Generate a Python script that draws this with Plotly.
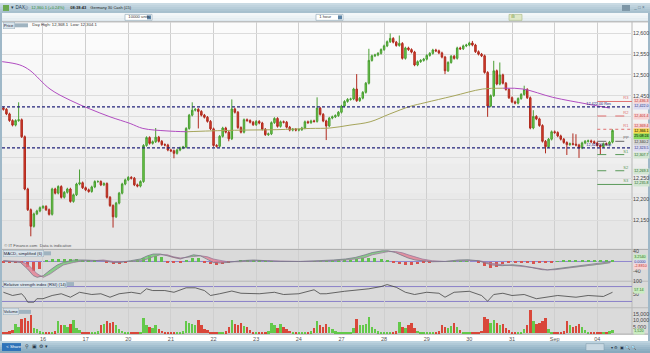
import plotly.graph_objects as go

W, H = 650, 353
FONT = "Arial, Liberation Sans, sans-serif"

# ---------------- data (hourly bars, index 1..201) ----------------
CLOSE = [
    12417, 12406, 12390, 12379, 12390, 12392, 12351, 12225, 12175, 12135,
    12165, 12172, 12180, 12183, 12175, 12164, 12225, 12215, 12231, 12205,
    12217, 12225, 12195, 12211, 12237, 12240, 12228, 12223, 12219, 12230,
    12243, 12243, 12235, 12238, 12205, 12185, 12158, 12191, 12215, 12237,
    12247, 12253, 12251, 12235, 12232, 12243, 12330, 12349, 12335, 12339,
    12350, 12340, 12332, 12331, 12319, 12317, 12311, 12319, 12324, 12326,
    12371, 12403, 12415, 12417, 12412, 12403, 12398, 12388, 12370, 12330,
    12328, 12352, 12372, 12362, 12346, 12418, 12410, 12373, 12362, 12392,
    12390, 12386, 12380, 12388, 12384, 12369, 12356, 12358, 12385, 12395,
    12376, 12387, 12386, 12374, 12367, 12369, 12367, 12368, 12372, 12387,
    12385, 12389, 12388, 12420, 12405, 12389, 12377, 12396, 12399, 12402,
    12410, 12425, 12436, 12441, 12442, 12466, 12438, 12444, 12458, 12480,
    12535, 12546, 12548, 12552, 12561, 12570, 12580, 12588, 12579, 12571,
    12576, 12540, 12565, 12561, 12555, 12524, 12532, 12535, 12538, 12547,
    12552, 12560, 12558, 12553, 12543, 12510, 12530, 12545, 12540, 12565,
    12563, 12570, 12572, 12577, 12572, 12556, 12550, 12546, 12506, 12425,
    12450, 12510, 12478, 12500, 12480, 12465, 12445, 12435, 12432, 12443,
    12453, 12465, 12445, 12372, 12400, 12394, 12378, 12340, 12327, 12345,
    12363, 12361, 12353, 12345, 12337, 12332, 12334, 12333, 12331, 12324,
    12336, 12340, 12341, 12339, 12336, 12330, 12327, 12334, 12333, 12338,
    12366,
]
FIRST_OPEN = 12420
WICK = 3  # typical wick length in points
HIGH_EXT = {6: 12434, 26: 12272, 51: 12372, 63: 12434, 76: 12441, 104: 12446,
            117: 12502, 121: 12563, 128: 12600, 131: 12595, 155: 12582,
            162: 12534, 164: 12530, 172: 12474, 175: 12415, 188: 12359, 189: 12357}
LOW_EXT = {10: 12111, 37: 12132, 57: 12299, 65: 12371, 75: 12340, 107: 12343,
           146: 12502, 160: 12399, 179: 12311, 186: 12307, 190: 12300, 197: 12309}

VOLUME = [
    600, 800, 1500, 2500, 7000, 5000, 11000, 12000, 9000, 14000, 4000, 3000, 1500,
    800, 500, 400, 600, 1500, 9000, 6000, 6000, 5000, 7000, 10500, 4000, 2500, 1200,
    600, 400, 500, 600, 1500, 6000, 7000, 9000, 7500, 8500, 6000, 3000, 2000, 900,
    500, 400, 300, 500, 1200, 11500, 6500, 5000, 4000, 6000, 3500, 2000, 1200, 700,
    500, 400, 500, 600, 1500, 9000, 8000, 7000, 6000, 10000, 6500, 3500, 2500, 1000,
    500, 400, 500, 600, 1500, 5000, 10500, 7000, 6000, 7500, 5500, 4500, 2500, 900,
    500, 400, 400, 500, 1500, 7500, 6000, 4000, 7000, 5000, 3000, 2000, 1000, 600,
    400, 400, 500, 600, 1500, 4000, 9000, 6000, 4500, 7000, 5000, 3000, 1500, 700,
    500, 400, 500, 1200, 4000, 10800, 6000, 6500, 7000, 12600, 5000, 3000, 1500, 800,
    500, 400, 500, 600, 1500, 8500, 5000, 4000, 6500, 8000, 4000, 2000, 1000, 600,
    500, 400, 500, 600, 1500, 6500, 5000, 4000, 5500, 8000, 5000, 2500, 1200, 700,
    500, 400, 500, 700, 2000, 12300, 11000, 8000, 10000, 7500, 6500, 7000, 4000, 2500,
    700, 500, 500, 800, 3000, 6000, 17900, 9000, 7000, 8000, 9500, 12000, 3000, 1200,
    600, 400, 500, 1500, 9500, 6000, 5000, 5500, 7000, 4500, 2500, 1200, 700, 500,
    400, 500, 600, 800, 1500, 2500,
]

DAY_START_BAR = [14, 28, 42, 56, 70, 84, 98, 112, 126, 140, 154, 168, 182, 196]
DAY_LABELS = ["16", "17", "20", "21", "22", "23", "24", "27", "28", "29", "30", "31", "Sep", "04"]

# moving average
MA_X = [0.6, 6.4, 9.7, 16.3, 22.9, 29.4, 36, 42.6, 46.8, 54.7, 61.3, 68.8, 79.7, 90.8,
        101.7, 108.2, 114.8, 121.4, 127.9, 134.5, 139.4, 148.6, 158.4, 165, 171.6,
        181.4, 192.6, 200.1]
MA_V = [12532, 12524, 12511, 12466, 12439, 12418, 12399, 12383, 12371, 12365, 12363,
        12365, 12367, 12368, 12371, 12372, 12379, 12387, 12406, 12424, 12433, 12449,
        12466, 12468, 12466, 12446, 12430, 12420]

RESISTANCE = 12423
SUPPORT = 12324
PIVOTS = [("R3", 12436, "solid", "#e07070"), ("R2", 12401, "dash", "#e07070"),
          ("R1", 12369, "dot", "#e07070"), ("PP", 12340, "dash", "#666666"),
          ("S1", 12308, "dash", "#5a9a5a"), ("S2", 12269, "dash", "#5a9a5a"),
          ("S3", 12236, "solid", "#5a9a5a")]

# MACD (simplified) lines and histogram
MACD_X = [1, 6.6, 8.9, 10.8, 12.1, 14.1, 16.4, 18.7, 20.7, 24, 27.2, 30.5, 33.8, 37.1,
          39.4, 42.7, 46, 48.3, 50.2, 52.5, 54.8, 56.8, 59.1, 61.4, 63.4, 65.7, 68,
          69.9, 72.2, 74.5, 78.8, 83.1, 87.7, 91.9, 98.5, 105.1, 109.3, 113.3, 116.5,
          119.8, 122.1, 125.4, 127.4, 129.7, 132, 133.9, 136.2, 138.5, 141.8, 146.1,
          150.4, 153.6, 156.9, 159.2, 161.5, 164.8, 168.1, 171.4, 174.7, 177.9, 179.6,
          182.2, 185.5, 189.8, 194.4, 198.6, 200.3]
MACD_A = [3, -4, -30, -57, -64, -57, -34, -14, -4, 6, 6, 3, 3, -4, -4, 3, 10, 23, 30, 30,
          23, 14, 10, 19, 27, 23, 10, -4, -6, -4, 3, 6, 3, 0, 0, 3, 6, 10, 16, 27, 36, 43,
          43, 36, 23, 14, 6, 3, -1, 0, 6, 7, 3, -6, -14, -17, -13, -17, -26, -33, -34, -30,
          -24, -18, -13, -6, -1]
MACD_B = [3, 0, -10, -34, -50, -64, -50, -30, -14, -4, 3, 3, 6, 0, -1, 0, 3, 10, 19, 27,
          27, 19, 14, 16, 20, 23, 19, 10, 3, -1, -1, 3, 3, 1, 0, 1, 3, 6, 10, 16, 27, 36,
          40, 40, 35, 27, 19, 10, 3, 0, 3, 4, 4, -2, -8, -13, -17, -18, -24, -30, -34, -33,
          -28, -22, -16, -10, -5]
HIST_X = list(range(1, 202, 2))
HIST_V = [-2, -2, -3, -4, -20, -38, -28, 4, 9, 9, 9, 9, 9, 8, 7, 5, 0, -6, -10, -10,
          -4, 2, 6, 14, 22, 22, 18, -4, -6, -6, 8, 16, 14, -4, -10, -12, -10, -6, 0, 3,
          4, 4, 3, 2, 1, 0, 0, 0, 0, 0, 0, 1, 1, 2, 3, 4, 6, 8, 12, 16,
          16, 15, 12, 6, -4, -10, -12, -12, -9, -5, -2, 0, 0, 1, 2, 2, 2, 0, -6, -18,
          -24, -20, -10, -6, -4, -5, -7, -8, -7, -5, -2, 1, 3, 4, 4, 4, 3, 3, 3, 3, 4]

# RSI (14)
RSI_X = [1, 4, 7, 8, 9, 11, 12, 14, 17, 20, 23, 26, 30, 33, 36, 39, 43, 46, 48, 50, 54,
         57, 61, 64, 67, 69, 72, 76, 79, 81, 85, 90, 93, 98, 103, 105, 107, 113, 118,
         121, 125, 127, 130, 133, 136, 140, 144, 146, 149, 154, 158, 160, 162, 165,
         168, 172, 176, 179, 183, 189, 193, 198, 201]
RSI_V = [57, 44, 51, 37, 17, 17, 31, 31, 44, 51, 37, 57, 48, 51, 37, 51, 57, 51, 71, 64,
         64, 57, 75, 75, 64, 44, 51, 62, 53, 53, 51, 57, 48, 51, 67, 51, 51, 61, 67, 71,
         80, 88, 77, 57, 48, 57, 53, 37, 57, 61, 44, 21, 48, 53, 44, 48, 31, 37, 44, 37,
         44, 40, 57]

PRICE_TICKS = list(range(12150, 12601, 50))
PRICE_TICKS_HIDDEN = [12300, 12350, 12400]  # covered by level boxes in the reference
VOL_TICKS = [5000, 10000, 15000]
MACD_TICKS = [40, -40]
RSI_TICKS = [100, 50]

# ---------------- derived candle data ----------------
N = len(CLOSE)
IDX = list(range(1, N + 1))
OPEN = [FIRST_OPEN] + CLOSE[:-1]
HIGH = [HIGH_EXT.get(i, max(o, c) + WICK) for i, o, c in zip(IDX, OPEN, CLOSE)]
LOW = [LOW_EXT.get(i, min(o, c) - WICK) for i, o, c in zip(IDX, OPEN, CLOSE)]

# ---------------- geometry helpers ----------------
def px(x):
    return x / W


def py(y):
    return 1 - y / H


X_LEFT, X_RIGHT = 2, 632
P_TOP, P_BOT = 19, 248
M_TOP, M_BOT = 249, 280
R_TOP, R_BOT = 281, 307
V_TOP, V_BOT = 308, 334
XR = [0.54, 207.4]

fig = go.Figure()

# candles
fig.add_trace(go.Candlestick(
    x=IDX, open=OPEN, high=HIGH, low=LOW, close=CLOSE,
    increasing=dict(line=dict(color="#4a9e33", width=1), fillcolor="#72d24a"),
    decreasing=dict(line=dict(color="#b02a1e", width=1), fillcolor="#d8402e"),
    whiskerwidth=0, xaxis="x", yaxis="y", showlegend=False, hoverinfo="skip"))

# moving average coloured by direction
seg_x, seg_y = [MA_X[0]], [MA_V[0]]
cur = None
segments = []
for k in range(1, len(MA_X)):
    falling = MA_V[k] <= MA_V[k - 1]
    if cur is None:
        cur = falling
    if falling != cur:
        segments.append((cur, seg_x, seg_y))
        seg_x, seg_y = [MA_X[k - 1]], [MA_V[k - 1]]
        cur = falling
    seg_x.append(MA_X[k])
    seg_y.append(MA_V[k])
segments.append((cur, seg_x, seg_y))
for falling, sx, sy in segments:
    fig.add_trace(go.Scatter(x=sx, y=sy, mode="lines", line=dict(color="#b04cc0" if falling else "#a5a45a", width=1),
                             xaxis="x", yaxis="y", showlegend=False, hoverinfo="skip", line_shape="spline"))

# MACD ribbon
gx, gy, rx, ry = [], [], [], []
for k in range(len(MACD_X) - 1):
    poly_x = [MACD_X[k], MACD_X[k + 1], MACD_X[k + 1], MACD_X[k], MACD_X[k]]
    poly_y = [MACD_A[k], MACD_A[k + 1], MACD_B[k + 1], MACD_B[k], MACD_A[k]]
    if MACD_A[k] + MACD_A[k + 1] >= MACD_B[k] + MACD_B[k + 1]:
        gx += poly_x + [None]; gy += poly_y + [None]
    else:
        rx += poly_x + [None]; ry += poly_y + [None]
fig.add_trace(go.Scatter(x=gx, y=gy, fill="toself", fillcolor="rgba(110,200,110,0.75)", mode="none",
                         xaxis="x2", yaxis="y2", showlegend=False, hoverinfo="skip"))
fig.add_trace(go.Scatter(x=rx, y=ry, fill="toself", fillcolor="rgba(230,120,140,0.75)", mode="none",
                         xaxis="x2", yaxis="y2", showlegend=False, hoverinfo="skip"))
fig.add_trace(go.Bar(x=HIST_X, y=HIST_V, width=1.0,
                     marker=dict(color=["#5fbf4f" if v >= 0 else "#d9534f" for v in HIST_V], line=dict(width=0)),
                     xaxis="x2", yaxis="y2", showlegend=False, hoverinfo="skip"))
fig.add_trace(go.Scatter(x=MACD_X, y=MACD_B, mode="lines", line=dict(color="#9a7a9a", width=0.8),
                         xaxis="x2", yaxis="y2", showlegend=False, hoverinfo="skip"))
fig.add_trace(go.Scatter(x=MACD_X, y=MACD_A, mode="lines", line=dict(color="#7a7a8a", width=0.8),
                         xaxis="x2", yaxis="y2", showlegend=False, hoverinfo="skip"))

# RSI
fig.add_trace(go.Scatter(x=RSI_X, y=RSI_V, mode="lines", line=dict(color="#444444", width=0.8),
                         xaxis="x3", yaxis="y3", showlegend=False, hoverinfo="skip"))

# volume
vcol = ["#63c94a" if c >= o else "#d9473a" for o, c in zip(OPEN, CLOSE)]
fig.add_trace(go.Bar(x=IDX, y=VOLUME, width=0.8, marker=dict(color=vcol, line=dict(width=0)),
                     xaxis="x4", yaxis="y4", showlegend=False, hoverinfo="skip"))

# ---------------- axes ----------------
xcommon = dict(range=XR, tickvals=DAY_START_BAR, showgrid=True, gridcolor="#cfcfcf", gridwidth=1,
               zeroline=False, showline=False, ticks="", fixedrange=True,
               domain=[px(X_LEFT), px(X_RIGHT)])
fig.update_layout(
    xaxis=dict(**xcommon, anchor="y", showticklabels=False, rangeslider=dict(visible=False)),
    xaxis2=dict(**xcommon, anchor="y2", showticklabels=False, matches="x"),
    xaxis3=dict(**xcommon, anchor="y3", showticklabels=False, matches="x"),
    xaxis4=dict(**xcommon, anchor="y4", showticklabels=True, matches="x", ticktext=DAY_LABELS,
                tickfont=dict(size=5.5, color="#555555", family=FONT)),
)
ycommon = dict(side="right", ticks="", zeroline=False, showline=False, fixedrange=True,
               tickfont=dict(size=5.3, color="#444444", family=FONT))
fig.update_layout(
    yaxis=dict(**ycommon, anchor="x", domain=[py(P_BOT), py(P_TOP)],
               range=[12600 - (P_BOT - 30.7) / 0.4184, 12600 + (30.7 - P_TOP) / 0.4184],
               tickvals=PRICE_TICKS,
               ticktext=["" if v in PRICE_TICKS_HIDDEN else f"{v:,}" for v in PRICE_TICKS],
               showgrid=True, gridcolor="#dcdcdc"),
    yaxis2=dict(**ycommon, anchor="x2", domain=[py(M_BOT), py(M_TOP)],
                range=[(260.7 - M_BOT) * 4, (260.7 - M_TOP) * 4],
                tickvals=MACD_TICKS, ticktext=[str(v) for v in MACD_TICKS], showgrid=False),
    yaxis3=dict(**ycommon, anchor="x3", domain=[py(R_BOT), py(R_TOP)],
                range=[-4, 100], tickvals=RSI_TICKS, ticktext=[str(v) for v in RSI_TICKS], showgrid=False),
    yaxis4=dict(**ycommon, anchor="x4", domain=[py(V_BOT), py(V_TOP)],
                range=[(333.3 - V_BOT) / 6.5 * 5000, (333.3 - V_TOP) / 6.5 * 5000],
                tickvals=VOL_TICKS, ticktext=[f"{v:,}" for v in VOL_TICKS], showgrid=False),
)

shapes = []
annots = []


def rect(x0, y0, x1, y1, color, layer="below", line=None):
    shapes.append(dict(type="rect", xref="paper", yref="paper", x0=px(x0), x1=px(x1), y0=py(y1), y1=py(y0),
                       fillcolor=color, line=dict(width=0) if line is None else line, layer=layer))


def hline(x0, x1, y, color, width=1, layer="below", dash="solid"):
    shapes.append(dict(type="line", xref="paper", yref="paper", x0=px(x0), x1=px(x1), y0=py(y), y1=py(y),
                       line=dict(color=color, width=width, dash=dash), layer=layer))


def text(x, y, s, size=5, color="#333333", anchor="left", bg=None, border=None, bold=False):
    a = dict(xref="paper", yref="paper", x=px(x), y=py(y), text=("<b>%s</b>" % s) if bold else s,
             showarrow=False, xanchor=anchor, yanchor="middle",
             font=dict(size=size, color=color, family=FONT), borderpad=0.3)
    if bg:
        a["bgcolor"] = bg
    if border:
        a["bordercolor"] = border
        a["borderwidth"] = 0.5
    annots.append(a)


# window chrome: top bar
bands = ["#c9dae3", "#c0d3de", "#b7cdd9", "#aec6d3", "#a7c0ce"]
for k, c in enumerate(bands):
    rect(0, k * 2, W, k * 2 + 2, c)
bands2 = ["#f3f7f9", "#ecf2f5", "#e5edf1", "#dde7ed"]
for k, c in enumerate(bands2):
    rect(0, 10 + k * 2.25, W, 10 + (k + 1) * 2.25, c)
# panel backgrounds
grad = ["#fbfbfb", "#f8f8f8", "#f5f5f5", "#f2f2f2", "#efefef", "#ececec", "#e9e9e9", "#e6e6e6"]
step = (P_BOT - P_TOP) / len(grad)
for k, c in enumerate(grad):
    rect(X_LEFT, P_TOP + k * step, 648, P_TOP + (k + 1) * step + 0.5, c)
for (t, b) in [(M_TOP, M_BOT), (R_TOP, R_BOT), (V_TOP, V_BOT)]:
    rect(X_LEFT, t, 648, b, "#dadada")
# left/right frame
rect(0, 10, 2, 341, "#9fb8c8")
rect(648, 10, 650, 341, "#9fb8c8")
# separators
for y in [P_TOP, 248.5, 280.5, 307.5, V_BOT]:
    hline(X_LEFT, 648, y, "#a8a8a8", 1)
shapes.append(dict(type="line", xref="paper", yref="paper", x0=px(X_RIGHT), x1=px(X_RIGHT), y0=py(V_BOT), y1=py(P_TOP),
                   line=dict(color="#b8b8b8", width=1), layer="below"))
# bottom toolbar
bands3 = ["#bcd2de", "#b0c9d7", "#a4c0d0", "#99b7c9", "#8fb0c3", "#88aabe"]
for k, c in enumerate(bands3):
    rect(0, 341 + k * 2, W, 341 + (k + 1) * 2, c)

# blue support/resistance lines
for lvl in [RESISTANCE, SUPPORT]:
    shapes.append(dict(type="line", xref="x", yref="y", x0=XR[0], x1=XR[1], y0=lvl, y1=lvl,
                       line=dict(color="#22227a", width=1.2, dash="3px,2px"), layer="above"))
# pivot lines from start of last day
for name, lvl, dash, col in PIVOTS:
    shapes.append(dict(type="line", xref="x", yref="y", x0=DAY_START_BAR[-1], x1=XR[1], y0=lvl, y1=lvl,
                       line=dict(color=col, width=1, dash=dash), layer="above"))

# indicator reference lines
shapes.append(dict(type="line", xref="x2", yref="y2", x0=XR[0], x1=XR[1], y0=0, y1=0,
                   line=dict(color="#8f86cf", width=1), layer="below"))
for lvl in [80, 20]:
    shapes.append(dict(type="line", xref="x3", yref="y3", x0=XR[0], x1=XR[1], y0=lvl, y1=lvl,
                       line=dict(color="#8a80c8", width=1), layer="below"))

# ---------------- texts ----------------
rect(3, 2, 9, 8, "#6aa84f", layer="above")
text(10, 5, "▾ DAX", 4.5, "#1d3b4f")
text(23, 5, "ⓘ", 4.2, "#335")
text(30, 5, "12,360.1 (+0.24%)", 4.0, "#2e8b2e")
text(69, 5, "08:38:43", 4.0, "#222", bold=True)
text(89, 5, "Germany 30 Cash (£5)", 4.0, "#222")
rect(622, 2, 630, 8, "#7d96a6", layer="above")
text(632, 5, "_ □ ×", 4.5, "#5b7385")

rect(125, 11.5, 152, 17.5, "#ffffff", layer="above", line=dict(color="#8aa2b2", width=0.6))
text(127, 14.5, "10000 units", 4.2, "#333")
rect(147, 12.5, 151, 16.5, "#5b83a5", layer="above")
rect(316, 11.5, 343, 17.5, "#ffffff", layer="above", line=dict(color="#8aa2b2", width=0.6))
text(318, 14.5, "1 hour", 4.2, "#333")
rect(338, 12.5, 342, 16.5, "#5b83a5", layer="above")
rect(509, 11.5, 522, 17.5, "#dfe8c8", layer="above", line=dict(color="#9aae70", width=0.5))
text(510, 14.5, "ılı", 4.5, "#6a8a30")

text(3, 22.5, "Price", 4.2, "#223", bg="#d8e3ea", border="#9db1bf")
rect(14, 20.5, 28, 24.5, "#9fb3c0", layer="above")
text(31, 22.5, "Day High: 12,368.1  Low: 12,304.1", 4.2, "#333")
text(3, 245, "© IT Finance.com  Data is indicative", 4.2, "#555")
text(3, 252.5, "MACD, simplified (6)", 4.2, "#223", bg="#d8e3ea", border="#9db1bf")
rect(39, 250.5, 51, 254.5, "#9fb3c0", layer="above")
text(3, 283.5, "Relative strength index (RSI) (14)", 4.2, "#223", bg="#d8e3ea", border="#9db1bf")
rect(61, 281.5, 74, 285.5, "#9fb3c0", layer="above")
text(3, 311.5, "Volume", 4.2, "#223", bg="#d8e3ea", border="#9db1bf")
rect(19, 309.5, 31, 313.5, "#9fb3c0", layer="above")

# pivot names and level boxes
for name, lvl, dash, col in PIVOTS:
    ypix = 30.7 + (12600 - lvl) * 0.4184
    text(630, ypix - 3, name, 4.0, col, anchor="right")
text(612, 102.5, "12,422.00 Res", 3.8, "#22227a", anchor="right")
text(612, 143.8, "12,323.50 Sup", 3.8, "#22227a", anchor="right")

boxes = [(99, "12,436.3", "#f7d4d4", "#c03030"), (104.5, "12,422.0", "#dcdcf2", "#303080"),
         (114, "12,401.4", "#f7d4d4", "#c03030"), (125, "12,369.4", "#f7d4d4", "#c03030"),
         (130, "12,366.1", "#f5d94a", "#000000"), (135, "25:08:24", "#86dc5c", "#000000"),
         (141, "12,340.2", "#d3d3d3", "#333333"), (147, "12,323.5", "#dcdcf2", "#303080"),
         (154, "12,307.7", "#d2e5d2", "#2a6a2a"), (169.5, "12,269.3", "#d2e5d2", "#2a6a2a"),
         (182.5, "12,235.8", "#d2e5d2", "#2a6a2a")]
for y, s, bg, fg in boxes:
    text(633, y, s, 3.7, fg, bg=bg)
text(633, 256.5, "3.2540", 3.7, "#2a6a2a", bg="#c9ecc0")
text(633, 261.3, "0.0000", 3.7, "#303080", bg="#dcdcf2")
text(633, 266, "-2.8810", 3.7, "#c03030", bg="#f7d4d4")
text(633, 290, "57.14", 3.7, "#2a6a2a", bg="#c9ecc0")
text(633, 331, "1,520", 3.7, "#2a6a2a", bg="#c9ecc0")

# bottom toolbar
rect(2, 343, 21, 351, "#2f73b9", layer="above")
text(5, 347, "< Share", 4.2, "#ffffff")
text(24, 347, "⚲  ▣  ⚙ ▾", 4.5, "#234")
rect(586, 343.5, 604, 350.5, "#c8d8e2", layer="above", line=dict(color="#7f9aab", width=0.5))
text(610, 347, "▾ ⚙ ▣ 🔍 🔍", 4.2, "#234")

fig.update_layout(width=W, height=H, margin=dict(l=0, r=0, t=0, b=0), paper_bgcolor="#ffffff",
                  plot_bgcolor="rgba(0,0,0,0)", shapes=shapes, annotations=annots, bargap=0,
                  showlegend=False, font=dict(family=FONT))
fig.write_html("out.html")
